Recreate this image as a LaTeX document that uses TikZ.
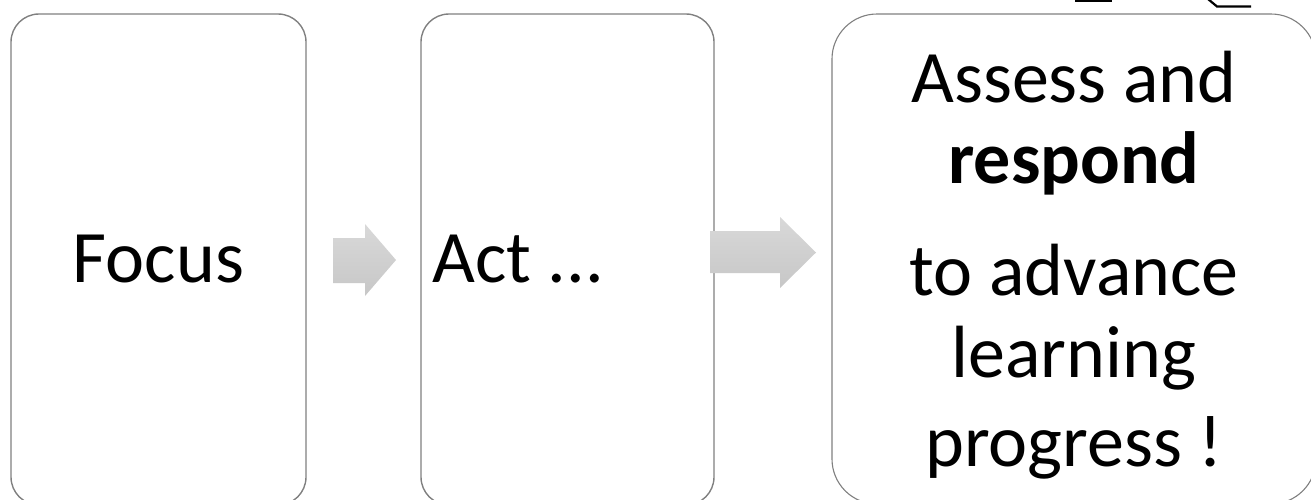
\documentclass[tikz,border=0pt]{standalone}
\usepackage{fontspec}
\setmainfont{Carlito}
\begin{document}
\begin{tikzpicture}[x=1pt,y=-1pt,
  stagebox/.style={draw=black!50, line width=1.4pt, fill=white},
  blockarrow/.style={top color=black!15, bottom color=black!22, draw=none},
  bigtext/.style={font=\fontsize{74}{80}\selectfont, inner sep=0pt, anchor=base},
  frag/.style={draw=black, line width=2.2pt}]
\useasboundingbox (0,0) rectangle (1311,499);
\clip (0,0) rectangle (1311,499);
% boxes
\draw[stagebox, rounded corners=28pt] (11,14) rectangle (306,505);
\draw[stagebox, rounded corners=28pt] (421,14) rectangle (714,505);
\draw[stagebox, line width=1.1pt, rounded corners=45pt] (832,14) rectangle (1316,504);
% block arrows
\path[blockarrow] (333,238) -- (365,238) -- (365,224) -- (396,260) -- (365,296) -- (365,283) -- (333,283) -- cycle;
\path[blockarrow] (710,231) -- (780,231) -- (780,217) -- (816,252.5) -- (780,288) -- (780,273) -- (710,273) -- cycle;
% texts
\node[bigtext] (focus) at (158.5,282) {Focus};
\node[bigtext, anchor=base west] (act) at (432,282) {Act ...};
\node[bigtext] (l1) at (1074,102) {Assess and};
\node[bigtext] (l2) at (1074,183) {\textbf{respond}};
\node[bigtext] (l3) at (1074,295) {to advance};
\node[bigtext] (l4) at (1074,377) {learning};
\node[bigtext] (l5) at (1074,466) {progress !};
% fragments at top edge
\draw[frag] (1075,0.5) -- (1112,0.5);
\draw[frag] (1208,-1) -- (1217,6.5) -- (1251,6.5);
\end{tikzpicture}
\end{document}
